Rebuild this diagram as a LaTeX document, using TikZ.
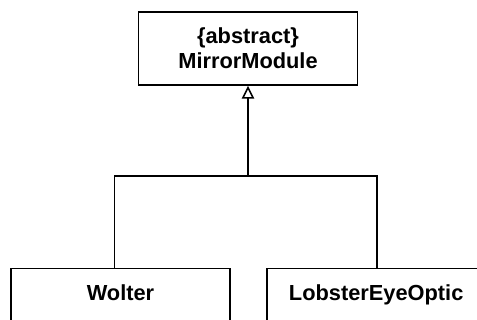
\documentclass[tikz,border=0pt]{standalone}
\usepackage{fontspec}
\setmainfont{Liberation Sans}
\usetikzlibrary{arrows.meta}
\begin{document}
\begin{tikzpicture}[x=1pt,y=-1pt,
  umlbox/.style={draw, line width=1.6pt, minimum width=219pt, inner sep=0pt,
    font=\fontsize{21.8}{25}\selectfont\bfseries, align=center},
  link/.style={line width=1.6pt},
  inherit/.style={link, -{Triangle[open, length=13pt, width=12.5pt, line width=1.6pt]}}]
\clip (0,0) rectangle (477,320);
\fill[white] (0,0) rectangle (477,320);
\node[umlbox, minimum height=72.7pt] (mm) at (248,48.6) {\{abstract\}\\MirrorModule};
\node[umlbox, anchor=north, inner ysep=17pt, text height=15.3pt, text depth=60pt] (w) at (120.5,267.7) {Wolter};
\node[umlbox, anchor=north, inner ysep=17pt, text height=15.3pt, text depth=60pt] (l) at (376.2,267.7) {LobsterEyeOptic};
\coordinate (jl) at (114.3,176);
\coordinate (jr) at (376.7,176);
\coordinate (jm) at (248,176);
\draw[link] (w.north -| jl) -- (jl) -- (jr) -- (l.north -| jr);
\draw[inherit] (jm) -- (mm.south);
\end{tikzpicture}
\end{document}
